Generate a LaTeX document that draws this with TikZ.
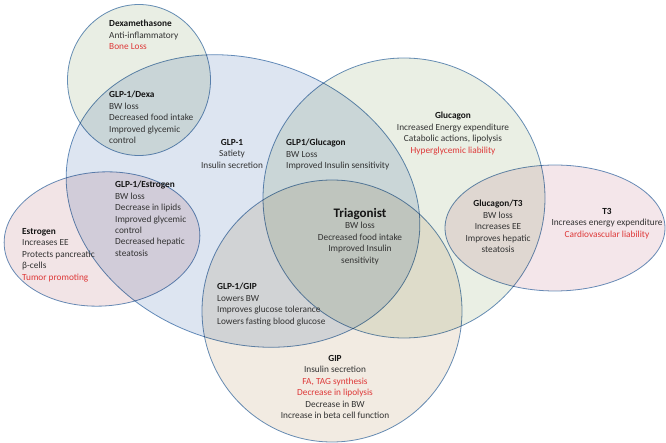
\documentclass[tikz,border=0pt]{standalone}
\usepackage{fontspec}
\setmainfont{Carlito}
\usetikzlibrary{shapes.geometric}
\definecolor{VennLine}{RGB}{106,146,190}
\definecolor{VennText}{RGB}{50,50,50}
\definecolor{VennHead}{RGB}{20,20,20}
\definecolor{VennRed}{RGB}{222,56,56}
\definecolor{DexaFill}{RGB}{233,238,228}
\definecolor{GlpFill}{RGB}{221,229,241}
\definecolor{GcgFill}{RGB}{234,239,228}
\definecolor{EstFill}{RGB}{242,228,230}
\definecolor{ThyFill}{RGB}{244,230,234}
\definecolor{GipFill}{RGB}{242,235,226}
\tikzset{
  venn/set/.style={
    ellipse,
    draw=VennLine,
    line width=0.8pt,
    inner sep=0pt
  },
  venn/label/.style={
    inner sep=0pt,
    text=VennText,
    font=\fontsize{9.3}{11.45}\selectfont
  },
  venn/left/.style={venn/label, align=left, anchor=north west},
  venn/mid/.style={venn/label, align=center, anchor=north}
}
\newcommand{\hd}[1]{\textcolor{VennHead}{\bfseries #1}}
\newcommand{\bad}[1]{\textcolor{VennRed}{#1}}

\begin{document}
\begin{tikzpicture}[x=1pt,y=-1pt]
  \useasboundingbox (0,0) rectangle (666,443);
  % the six sets
  \begin{scope}[blend mode=multiply]
    \node[venn/set,fill=DexaFill,minimum width=143pt,minimum height=151pt] (dexa) at (139,80) {};
    \node[venn/set,fill=GlpFill,minimum width=362pt,minimum height=282pt,rotate=-20] (glp1) at (243,201) {};
    \node[venn/set,fill=GcgFill,minimum width=282pt,minimum height=280pt] (gcg) at (404,198) {};
    \node[venn/set,fill=EstFill,minimum width=196pt,minimum height=134pt,rotate=4] (estr) at (102,239) {};
    \node[venn/set,fill=ThyFill,minimum width=220pt,minimum height=126pt] (thy) at (555,228) {};
    \node[venn/set,fill=GipFill,minimum width=260pt,minimum height=262pt] (gip) at (332,311) {};
  \end{scope}
  % texts
  \node[venn/left] (dexaTxt) at (109,20) {\hd{Dexamethasone}\\ Anti-inflammatory\\ \bad{Bone Loss}};
  \node[venn/left] (glpDexaTxt) at (109,91) {\hd{GLP-1/Dexa}\\ BW loss\\ Decreased food intake\\ Improved glycemic\\ control};
  \node[venn/mid] (glpTxt) at (232,139) {\hd{GLP-1}\\ Satiety\\ Insulin secretion};
  \node[venn/left] (glpGcgTxt) at (286,139) {\hd{GLP1/Glucagon}\\ BW Loss\\ Improved Insulin sensitivity};
  \node[venn/mid] (gcgTxt) at (453,112) {\hd{Glucagon}\\ Increased Energy expenditure\\ Catabolic actions, lipolysis\\ \bad{Hyperglycemic liability}};
  \node[venn/left] (glpEstTxt) at (115,181) {\hd{GLP-1/Estrogen}\\ BW loss\\ Decrease in lipids\\ Improved glycemic\\ control\\ Decreased hepatic\\ steatosis};
  \node[venn/left] (estTxt) at (22,228) {\hd{Estrogen}\\ Increases EE\\ Protects pancreatic\\ β-cells\\ \bad{Tumor promoting}};
  \node[venn/mid,font=\fontsize{13}{14}\selectfont] (triTitle) at (360,208) {\hd{Triagonist}};
  \node[venn/mid] (triTxt) at (360,222) {BW loss\\ Decreased food intake\\ Improved Insulin\\ sensitivity};
  \node[venn/mid] (gcgThyTxt) at (498,200) {\hd{Glucagon/T3}\\ BW loss\\ Increases EE\\ Improves hepatic\\ steatosis};
  \node[venn/mid] (thyTxt) at (607,208) {\hd{T3}\\ Increases energy expenditure\\ \bad{Cardiovascular liability}};
  \node[venn/left] (glpGipTxt) at (217,283) {\hd{GLP-1/GIP}\\ Lowers BW\\ Improves glucose tolerance\\ Lowers fasting blood glucose};
  \node[venn/mid] (gipTxt) at (335,355) {\hd{GIP}\\ Insulin secretion\\ \bad{FA, TAG synthesis}\\ \bad{Decrease in lipolysis}\\ Decrease in BW\\ Increase in beta cell function};
\end{tikzpicture}
\end{document}
